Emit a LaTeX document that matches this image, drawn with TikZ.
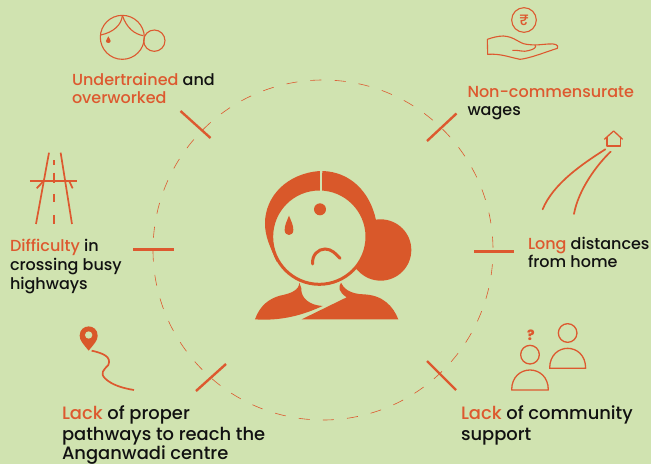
\documentclass[tikz,border=0pt]{standalone}
\usepackage{fontspec}
\setmainfont{Poppins Medium}
\tikzset{
  lbl/.style={anchor=base west,inner sep=0pt,outer sep=0pt,text=textColor,font=\fontsize{16}{18}\selectfont},
  lblbig/.style={lbl,font=\fontsize{17.9}{21}\selectfont},
  tickmark/.style={draw=drawColor,line width=2.4pt},
  icon/.style={draw=drawColor,line width=1.1pt,line join=round},
  road/.style={draw=drawColor,line width=1.7pt,line cap=round},
}
\definecolor{bgColor}{RGB}{208,227,176}
\definecolor{drawColor}{RGB}{221,89,47}
\definecolor{fillColor}{RGB}{217,88,42}
\definecolor{textColor}{RGB}{17,17,17}
\newcommand{\hl}[1]{\textcolor{drawColor}{#1}}
\begin{document}
\begin{tikzpicture}[x=1pt,y=-1pt]
\path[use as bounding box,fill=bgColor] (0,0) rectangle (651,464);

% dashed ring and ticks
\draw[draw=drawColor,line width=0.6pt,dash pattern=on 11pt off 13.2pt,dash phase=10pt] (323,250) circle[radius=170];
\path[tickmark] (180.5,111) -- (210.5,138);
\path[tickmark] (427,141) -- (456.5,113.5);
\path[tickmark] (133,249.5) -- (174,249.5);
\path[tickmark] (474,251.5) -- (514,251.5);
\path[tickmark] (196,391) -- (226,364);
\path[tickmark] (427,361) -- (456,390);

% centre figure
\begin{scope}[shift={(230,150)},scale=0.3333]
\fill[fillColor] (452,300) circle[radius=92];
\fill[fillColor] (270,63) .. controls (170,70) and (105,140) .. (105,220) .. controls (105,260) and (120,290) .. (140,335) -- (270,260) -- cycle;
\fill[fillColor] (277,63) .. controls (360,65) and (420,125) .. (438,210) -- (460,300) -- (385,362) -- (270,260) -- cycle;
\draw[draw=fillColor,fill=bgColor,line width=3pt] (268,260) circle[radius=143];
\fill[bgColor] (271,50) rectangle (276,124);
\fill[fillColor] (270,178) circle[radius=18];
\fill[fillColor] (177,197) .. controls (170,215) and (164,225) .. (164,240) .. controls (164,260) and (190,260) .. (190,240) .. controls (190,225) and (184,215) .. (177,197) -- cycle;
\draw[draw=fillColor,line width=3pt,line cap=round] (248,342) .. controls (245,315) and (265,297) .. (285,297) .. controls (305,297) and (318,312) .. (330,325);
% bust
\fill[fillColor] (75,508) .. controls (90,465) and (120,445) .. (150,437) .. controls (185,430) and (207,420) .. (208,398) -- (214,415) .. controls (212,445) and (240,466) .. (278,468) .. controls (240,485) and (170,515) .. (75,508) -- cycle;
\fill[fillColor] (215,508) -- (350,442) .. controls (325,425) and (325,412) .. (333,398) .. controls (340,415) and (360,432) .. (400,433) .. controls (460,435) and (490,470) .. (505,508) -- cycle;
\end{scope}

% undertrained icon
\begin{scope}[shift={(60,0)},scale=0.3333]
\path[icon] (187,112) circle[radius=66];
\path[icon] (283,122) circle[radius=32];
\path[icon] (187,46) .. controls (185,75) and (160,97) .. (122,105);
\path[icon] (187,46) .. controls (200,85) and (225,103) .. (250,107);
\fill[fillColor] (145,109) .. controls (141,118) and (138,120) .. (138,123) .. controls (138,131) and (152,131) .. (152,123) .. controls (152,120) and (149,118) .. (145,109) -- cycle;
\end{scope}

% wages icon
\begin{scope}[shift={(420,0)},scale=0.3333]
\path[icon] (312,60) circle[radius=37];
\node[inner sep=0pt,text=drawColor,font=\fontsize{15}{15}\selectfont] (rupee) at (312,60) {₹};
\path[icon] (202,118) -- (203,163) .. controls (240,160) and (270,172) .. (300,178) .. controls (330,175) and (380,155) .. (412,145) .. controls (418,135) and (405,130) .. (385,132) .. controls (365,133) and (350,137) .. (320,133) .. controls (295,130) and (285,110) .. (250,108) .. controls (235,108) and (215,113) .. (202,118) -- cycle;
\path[icon] (277,151) .. controls (300,150) and (310,157) .. (325,152) .. controls (345,148) and (350,140) .. (345,135);
% house and roads
\path[icon,line width=1.3pt] (553,418) -- (581,393) -- (608,418);
\path[icon,line width=1.3pt] (561,412) -- (561,438) -- (601,438) -- (601,412);
\path[road] (556,448) .. controls (490,490) and (400,550) .. (368,628);
\path[road] (572,455) .. controls (530,495) and (475,570) .. (462,642);
\end{scope}

% highway icon
\begin{scope}[shift={(0,140)},scale=0.3333]
\path[road,line cap=butt] (147,38) -- (108,252);
\path[road,line cap=butt] (182,38) -- (216,252);
\path[road,line cap=butt] (90,124) -- (232,124);
\path[road,line cap=butt] (130,124) -- (110,145);
\path[road,line cap=butt] (208,124) -- (218,145);
\foreach \ya/\yb in {60/75,98/128,162/185,225/252}
  \path[road,line cap=butt] (162,\ya) -- (162,\yb);
\end{scope}

% pin icon
\begin{scope}[shift={(50,320)},scale=0.3333]
\fill[fillColor] (116,92) .. controls (100,72) and (89,62) .. (89,47) .. controls (89,10) and (143,10) .. (143,47) .. controls (143,62) and (132,72) .. (116,92) -- cycle;
\fill[bgColor] (116,45) circle[radius=11];
\path[road,line cap=butt] (125,92) .. controls (160,100) and (185,110) .. (175,135) .. controls (160,150) and (150,160) .. (165,175) .. controls (185,195) and (220,205) .. (252,210);
\end{scope}

% community icon
\begin{scope}[shift={(420,310)},scale=0.3333]
\node[inner sep=0pt,text=drawColor,font=\fontsize{14}{14}\bfseries\selectfont] (query) at (333,77) {?};
\path[icon,line width=1.3pt] (330,134) circle[radius=28];
\path[icon,line width=1.3pt] (275,240) -- (385,240) .. controls (385,160) and (275,160) .. (275,240) -- cycle;
\path[icon,line width=1.3pt] (443,69) circle[radius=28];
\path[icon,line width=1.3pt] (389,175) -- (497,175) .. controls (497,95) and (389,95) .. (389,175) -- cycle;
\end{scope}

% labels
\node[lbl] (trainA) at (72,85.5) {\hl{Undertrained} and};
\node[lbl] (trainB) at (72,103.5) {\hl{overworked}};
\node[lbl] (wageA) at (467.5,97) {\hl{Non-commensurate}};
\node[lbl] (wageB) at (467.5,115.5) {wages};
\node[lbl] (homeA) at (528,249) {\hl{Long} distances};
\node[lbl] (homeB) at (528,267) {from home};
\node[lbl] (highA) at (10,251) {\hl{Difficulty} in};
\node[lbl] (highB) at (10,270.5) {crossing busy};
\node[lbl] (highC) at (10,289) {highways};
\node[lblbig] (pathA) at (62,419) {\hl{Lack} of proper};
\node[lblbig] (pathB) at (62,440) {pathways to reach the};
\node[lblbig] (pathC) at (62,459) {Anganwadi centre};
\node[lblbig] (commA) at (461,419) {\hl{Lack} of community};
\node[lblbig] (commB) at (461,440) {support};
\end{tikzpicture}
\end{document}
